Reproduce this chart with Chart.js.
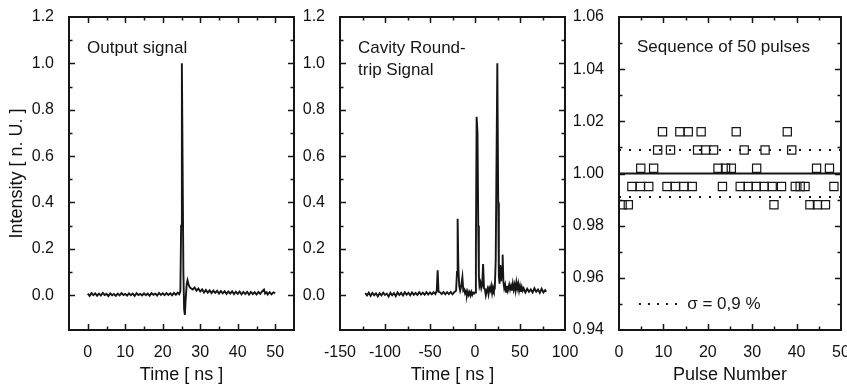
<!DOCTYPE html>
<html lang="en">
<head>
    <meta charset="UTF-8">
    <script src="https://cdn.jsdelivr.net/npm/chart.js@4.4.1/dist/chart.umd.min.js"></script>
    <title>Pulse signals</title>
    <style>
        html, body { margin: 0; padding: 0; background: #fff; overflow: hidden; }
        .panel { position: absolute; top: 0; height: 389px; }
        #p1 { left: 0; width: 300px; }
        #p2 { left: 300px; width: 300px; }
        #p3 { left: 570px; width: 278px; }
    </style>
</head>
<body>
    <div class="panel" id="p1"><canvas id="outChart"></canvas></div>
    <div class="panel" id="p2"><canvas id="rtChart"></canvas></div>
    <div class="panel" id="p3"><canvas id="seqChart"></canvas></div>
<script>
// output signal, time in ns
var outTime = [0, 0.5, 1, 1.5, 2, 2.5, 3, 3.5, 4, 4.5, 5, 5.5, 6, 6.5, 7, 7.5, 8, 8.5, 9, 9.5,
    10, 10.5, 11, 11.5, 12, 12.5, 13, 13.5, 14, 14.5, 15, 15.5, 16, 16.5, 17, 17.5, 18, 18.5, 19, 19.5,
    20, 20.5, 21, 21.5, 22, 22.5, 23, 23.5, 24, 24.4, 24.7, 24.9, 25.1, 25.3, 25.5, 25.7, 25.9, 26.1, 26.4, 26.6,
    26.9, 27.2, 27.5, 28, 28.5, 29, 29.5, 30, 30.5, 31, 31.5, 32, 32.5, 33, 33.5, 34, 34.5, 35, 35.5, 36,
    36.5, 37, 37.5, 38, 38.5, 39, 39.5, 40, 40.5, 41, 41.5, 42, 42.5, 43, 43.5, 44, 44.5, 45, 45.5, 46,
    46.5, 47, 47.3, 47.7, 48, 48.5, 49, 49.5, 50];
var outSignal = [0.007, -0.003, 0.009, 0.000, 0.008, -0.002, 0.007, -0.001, 0.010, 0.001, 0.006, -0.004, 0.008, 0.000, 0.005, -0.003, 0.007, -0.001, 0.009, 0.001,
    0.006, -0.002, 0.008, 0.000, 0.007, -0.003, 0.009, 0.001, 0.006, -0.001, 0.008, 0.000, 0.007, -0.002, 0.009, 0.002, 0.007, -0.001, 0.010, 0.001,
    0.008, 0.000, 0.009, 0.001, 0.008, 0.000, 0.010, 0.002, 0.011, 0.004, 0.018, 0.30, 1.0, 0.55, 0.10, -0.06, -0.085, -0.02, 0.05, 0.065,
    0.045, 0.035, 0.030, 0.025, 0.033, 0.020, 0.029, 0.016, 0.025, 0.012, 0.023, 0.011, 0.021, 0.009, 0.020, 0.010, 0.019, 0.007, 0.018, 0.008,
    0.017, 0.006, 0.016, 0.007, 0.017, 0.005, 0.015, 0.006, 0.016, 0.004, 0.014, 0.005, 0.015, 0.003, 0.014, 0.005, 0.013, 0.003, 0.014, 0.006,
    0.016, 0.024, 0.007, 0.013, 0.003, 0.013, 0.004, 0.012, 0.009];

// cavity round-trip signal, time in ns
var rtTime = [-122, -120, -118, -116, -114, -112, -110, -108, -106, -104, -102, -100, -98, -96, -94, -92, -90, -88, -86, -84,
    -82, -80, -78, -76, -74, -72, -70, -68, -66, -64, -62, -60, -58, -56, -54, -52, -50, -48, -46, -44,
    -42.5, -41.5, -40.5, -39, -37, -35, -33, -31, -29, -27, -25, -23, -21, -20, -19.3, -18.5, -17.5, -16.5, -15.5, -14,
    -13, -12, -11, -10, -9, -8, -7, -6, -5, -4, -3, -2, -1, 0, 1, 1.8, 2.8, 3.6, 4.3, 5,
    6, 7, 8, 9, 10, 11, 12, 13, 14, 15, 16, 17, 18, 19, 20, 21, 22, 23, 24.8, 25.8,
    26.5, 27.3, 28.2, 29, 30, 30.7, 31.5, 32.5, 33.5, 34.5, 35.5, 36.5, 38, 39, 40, 41, 42, 43, 44, 45,
    46, 47, 48, 49, 50, 51, 52, 53, 54, 56, 58, 60, 62, 64, 66, 68, 70, 72, 74, 76, 78, 79];
var rtSignal = [0.009, -0.001, 0.011, -0.003, 0.010, 0.000, 0.008, -0.005, 0.009, -0.001, 0.011, 0.001, 0.007, -0.006, 0.010, 0.000, 0.009, -0.004, 0.012, 0.001,
    0.010, -0.001, 0.013, 0.002, 0.011, 0.000, 0.012, 0.002, 0.010, 0.001, 0.013, 0.003, 0.011, 0.002, 0.013, 0.003, 0.012, 0.004, 0.013, 0.005,
    0.020, 0.107, 0.015, 0.013, 0.005, 0.014, 0.004, 0.013, 0.005, 0.014, 0.004, 0.013, 0.020, 0.10, 0.33, 0.12, 0.040, 0.020, 0.035, 0.078,
    0.020, 0.025, 0.008, 0.018, -0.002, 0.015, 0.001, 0.013, -0.001, 0.014, 0.002, 0.011, 0.007, 0.012, 0.20, 0.77, 0.70, 0.30, 0.080, 0.040,
    0.055, 0.030, 0.045, 0.135, 0.030, 0.025, 0.000, 0.020, 0.030, 0.005, 0.030, 0.020, 0.040, 0.010, 0.035, 0.020, 0.030, 0.15, 1.0, 0.40,
    0.080, 0.050, 0.130, 0.060, 0.120, 0.175, 0.060, 0.030, 0.045, 0.015, 0.040, 0.020, 0.045, 0.025, 0.040, 0.020, 0.050, 0.025, 0.045, 0.020,
    0.055, 0.030, 0.050, 0.020, 0.040, 0.015, 0.035, 0.020, 0.030, 0.012, 0.028, 0.015, 0.025, 0.012, 0.030, 0.015, 0.025, 0.010, 0.028, 0.012, 0.022, 0.015];

// sequence of 50 pulses
var pulseNumber = [0.7, 2.1, 2.9, 4.8, 4.9, 6.7, 7.8, 8.7, 9.8, 10.8, 11.6, 12.7, 13.7, 14.6, 15.6, 16.5, 17.7, 18.5, 19.5, 21.3,
    22.3, 23.3, 24.0, 25.3, 26.4, 27.3, 28.2, 29.1, 30.9, 31.0, 32.7, 32.9, 34.5, 34.9, 36.6, 37.9, 38.9, 39.7, 40.8, 41.9,
    43.0, 44.5, 44.7, 46.5, 47.4, 48.4];
var pulseValue = [0.988, 0.988, 0.995, 0.995, 1.002, 0.995, 1.002, 1.009, 1.016, 0.995, 1.009, 0.995, 1.016, 0.995, 1.016, 0.995, 1.009, 1.016, 1.009, 1.009,
    1.002, 0.995, 1.002, 1.002, 1.016, 0.995, 1.009, 0.995, 0.995, 1.002, 0.995, 1.009, 0.995, 0.988, 0.995, 1.016, 1.009, 0.995, 0.995, 0.995,
    0.988, 1.002, 0.988, 0.988, 1.002, 0.995];
var meanLevel = 1.0;
var sigmaUpper = 1.009;
var sigmaLower = 0.991;
var sigmaLabel = 'σ = 0,9 %';

Chart.defaults.font.family = "'Liberation Sans', Arial, sans-serif";
Chart.defaults.font.size = 16;
Chart.defaults.color = '#111';
Chart.defaults.animation = false;

var ink = '#161616';

function pts(xs, ys) {
    var out = [];
    for (var i = 0; i < xs.length; i++) out.push({x: xs[i], y: ys[i]});
    return out;
}

function isMajor(v, step) {
    var r = v / step;
    return Math.abs(r - Math.round(r)) < 1e-6;
}

// frame with inward ticks on all four sides, plus the text inside the plot
var frame = {
    id: 'frame',
    afterDraw: function(chart, args, o) {
        var ctx = chart.ctx, a = chart.chartArea, sx = chart.scales.x, sy = chart.scales.y;
        ctx.save();
        ctx.strokeStyle = ink;
        ctx.lineWidth = 1.5;
        ctx.beginPath();
        sx.ticks.forEach(function(t) {
            var p = Math.round(sx.getPixelForValue(t.value)) + 0.5;
            if (p < a.left + 1 || p > a.right - 1) return;
            var len = isMajor(t.value, o.xMajor) ? 6 : 3.5;
            ctx.moveTo(p, a.bottom); ctx.lineTo(p, a.bottom - len);
            ctx.moveTo(p, a.top); ctx.lineTo(p, a.top + len);
        });
        sy.ticks.forEach(function(t) {
            var p = Math.round(sy.getPixelForValue(t.value)) + 0.5;
            if (p < a.top + 1 || p > a.bottom - 1) return;
            var len = isMajor(t.value, o.yMajor) ? 6 : 3.5;
            ctx.moveTo(a.left, p); ctx.lineTo(a.left + len, p);
            ctx.moveTo(a.right, p); ctx.lineTo(a.right - len, p);
        });
        ctx.stroke();
        ctx.lineWidth = 2;
        ctx.strokeRect(a.left, a.top, a.right - a.left, a.bottom - a.top);

        ctx.fillStyle = ink;
        ctx.font = "17px 'Liberation Sans', Arial, sans-serif";
        ctx.textBaseline = 'middle';
        (o.notes || []).forEach(function(n) {
            ctx.fillText(n[0], a.left + n[1], n[2]);
        });
        if (o.legend) {
            var y = sy.getPixelForValue(o.legend.y);
            ctx.setLineDash([2, 7]);
            ctx.lineWidth = 2;
            ctx.beginPath();
            ctx.moveTo(sx.getPixelForValue(o.legend.x0), y);
            ctx.lineTo(sx.getPixelForValue(o.legend.x1), y);
            ctx.stroke();
            ctx.setLineDash([]);
            ctx.fillText(o.legend.text, sx.getPixelForValue(o.legend.x1) + 6, y);
        }
        ctx.restore();
    }
};

function fixBox(w, h) {
    return function(scale) {
        if (w !== null) scale.width = w;
        if (h !== null) scale.height = h;
        scale.paddingTop = 0; scale.paddingBottom = 0;
        scale.paddingLeft = 0; scale.paddingRight = 0;
    };
}

function xAxis(min, max, step, major, title) {
    return {
        type: 'linear', min: min, max: max,
        grid: {display: false}, border: {display: false},
        ticks: {
            stepSize: step, autoSkip: false, maxRotation: 0, padding: 5,
            callback: function(v) { return isMajor(v, major) ? String(Math.round(v)) : ''; }
        },
        title: {display: true, text: title, font: {size: 18}, padding: {top: 0, bottom: 3}},
        afterFit: fixBox(null, 59)
    };
}

function yAxis(min, max, step, major, digits, width, title) {
    return {
        type: 'linear', min: min, max: max,
        grid: {display: false}, border: {display: false},
        ticks: {
            stepSize: step, autoSkip: false, padding: 7,
            callback: function(v) { return isMajor(v, major) ? v.toFixed(digits) : ''; }
        },
        title: {display: !!title, text: title || '', font: {size: 18}, padding: {top: 6, bottom: 0}},
        afterFit: fixBox(width, null)
    };
}

function traceSet(xs, ys) {
    return {
        data: pts(xs, ys), showLine: true, borderColor: ink, borderWidth: 1.9,
        pointRadius: 0, tension: 0
    };
}

var baseOpts = function(padRight, x, y, frameOpts) {
    return {
        responsive: true, maintainAspectRatio: false,
        layout: {padding: {top: 17, right: padRight, bottom: 0, left: 0}},
        plugins: {legend: {display: false}, tooltip: {enabled: false}, frame: frameOpts},
        scales: {x: x, y: y}
    };
};

new Chart(document.getElementById('outChart'), {
    type: 'scatter',
    data: {datasets: [traceSet(outTime, outSignal)]},
    options: baseOpts(6,
        xAxis(-5, 55, 5, 10, 'Time [ ns ]'),
        yAxis(-0.15, 1.2, 0.1, 0.2, 1, 69, 'Intensity [ n. U. ]'),
        {xMajor: 10, yMajor: 0.2, notes: [['Output signal', 18, 48]]}),
    plugins: [frame]
});

new Chart(document.getElementById('rtChart'), {
    type: 'scatter',
    data: {datasets: [traceSet(rtTime, rtSignal)]},
    options: baseOpts(35,
        xAxis(-150, 100, 25, 50, 'Time [ ns ]'),
        yAxis(-0.15, 1.2, 0.1, 0.2, 1, 40, null),
        {xMajor: 50, yMajor: 0.2, notes: [['Cavity Round-', 18, 48], ['trip Signal', 18, 70]]}),
    plugins: [frame]
});

new Chart(document.getElementById('seqChart'), {
    type: 'scatter',
    data: {datasets: [
        {
            data: pts(pulseNumber, pulseValue), showLine: false, pointStyle: 'rect',
            pointRadius: 5.8, borderColor: ink, borderWidth: 1.2, backgroundColor: 'rgba(0,0,0,0)'
        },
        {
            data: pts([0, 50], [meanLevel, meanLevel]), showLine: true, borderColor: ink,
            borderWidth: 2, pointRadius: 0
        },
        {
            data: pts([0, 50], [sigmaUpper, sigmaUpper]), showLine: true, borderColor: ink,
            borderWidth: 2, borderDash: [2, 8], pointRadius: 0
        },
        {
            data: pts([0, 50], [sigmaLower, sigmaLower]), showLine: true, borderColor: ink,
            borderWidth: 2, borderDash: [2, 8], pointRadius: 0
        }
    ]},
    options: baseOpts(0,
        xAxis(0, 50, 5, 10, 'Pulse Number'),
        yAxis(0.94, 1.06, 0.01, 0.02, 2, 49, null),
        {xMajor: 10, yMajor: 0.02,
         notes: [['Sequence of 50 pulses', 18, 47]],
         legend: {x0: 4.5, x1: 14, y: 0.95, text: sigmaLabel}}),
    plugins: [frame]
});
</script>
</body>
</html>
